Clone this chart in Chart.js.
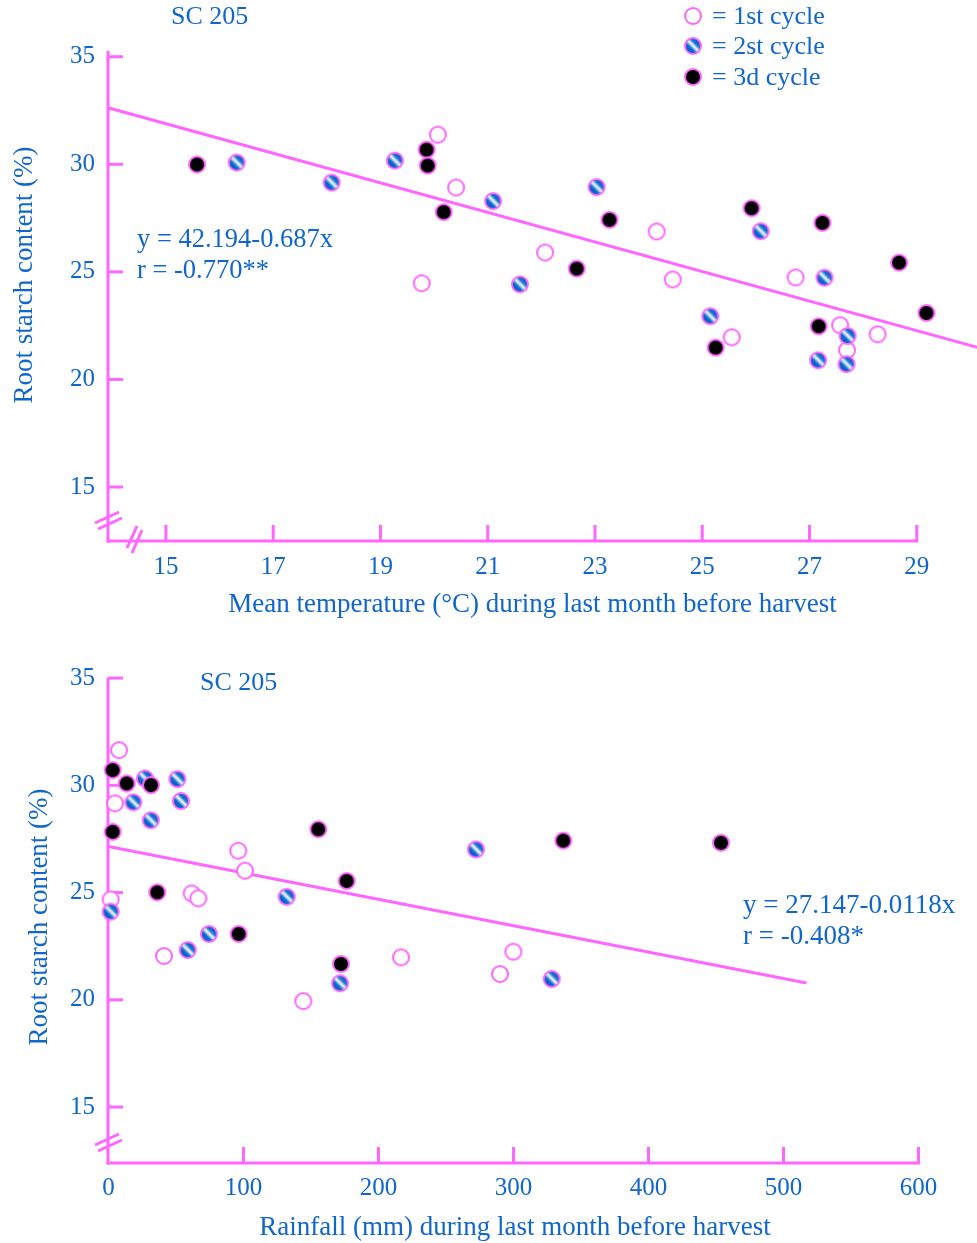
<!DOCTYPE html>
<html>
<head>
<meta charset="utf-8">
<script src="https://cdn.jsdelivr.net/npm/chart.js@4.4.1/dist/chart.umd.min.js"></script>
<style>
html,body{margin:0;padding:0;background:#fff;width:977px;height:1243px;overflow:hidden;}
#c1{position:absolute;left:0;top:0;}
#c2{position:absolute;left:0;top:625px;}
</style>
</head>
<body>
<canvas id="c1" width="977" height="625"></canvas>
<canvas id="c2" width="977" height="618"></canvas>
<script>
// ---------- DATA ----------
// Top panel: mean temperature (°C) vs root starch content (%)
const tempCycle1X = [20.07, 20.41, 19.77, 22.07, 24.15, 24.45, 25.55, 26.74, 27.57, 27.70, 28.27];
const tempCycle1Y = [31.38, 28.92, 24.47, 25.90, 26.88, 24.65, 21.96, 24.74, 22.52, 21.36, 22.10];
const tempCycle2X = [16.32, 18.09, 19.27, 21.10, 21.60, 23.03, 26.09, 25.15, 27.28, 27.71, 27.16, 27.69];
const tempCycle2Y = [30.08, 29.15, 30.17, 28.29, 24.42, 28.94, 26.89, 22.94, 24.73, 22.02, 20.89, 20.71];
const tempCycle3X = [15.58, 19.86, 19.88, 20.18, 22.66, 23.27, 25.92, 27.24, 28.67, 29.18, 27.17, 25.25];
const tempCycle3Y = [29.99, 30.68, 29.94, 27.78, 25.15, 27.42, 27.96, 27.28, 25.43, 23.09, 22.47, 21.48];
const tempTrendX = [13.92, 30.15];
const tempTrendY = [32.63, 21.48];
const tempXTicks = [15, 17, 19, 21, 23, 25, 27, 29];
const starchTicks = [15, 20, 25, 30, 35];

// Bottom panel: rainfall (mm) vs root starch content (%)
const rainCycle1X = [7.8, 4.8, 96.1, 101.1, 61.6, 66.5, 1.6, 41.1, 216.7, 144.3, 299.9, 290.0];
const rainCycle1Y = [31.64, 29.16, 26.95, 26.02, 24.96, 24.73, 24.68, 22.04, 21.98, 19.94, 22.24, 21.20];
const rainCycle2X = [27.0, 51.0, 18.4, 53.7, 31.3, 1.6, 132.0, 74.4, 58.7, 272.2, 171.5, 328.3];
const rainCycle2Y = [30.32, 30.29, 29.21, 29.27, 28.37, 24.11, 24.80, 23.07, 22.32, 27.01, 20.77, 20.97];
const rainCycle3X = [3.1, 13.5, 31.5, 3.1, 36.1, 96.4, 155.4, 336.9, 176.4, 172.2, 453.7];
const rainCycle3Y = [30.71, 30.09, 30.01, 27.83, 25.01, 23.07, 27.95, 27.42, 25.54, 21.67, 27.32];
const rainTrendX = [0, 517];
const rainTrendY = [27.15, 20.78];
const rainXTicks = [0, 100, 200, 300, 400, 500, 600];

// Texts
const cycleLabels = ['= 1st cycle', '= 2st cycle', '= 3d cycle'];
const varietyLabel = 'SC 205';
const yTitle = 'Root starch content (%)';
const tempXTitle = 'Mean temperature (°C) during last month before harvest';
const rainXTitle = 'Rainfall (mm) during last month before harvest';
const tempEquation = ['y = 42.194-0.687x', 'r = -0.770**'];
const rainEquation = ['y = 27.147-0.0118x', 'r = -0.408*'];

// ---------- STYLE ----------
const PINK = '#ff66ff';
const BLUE = '#1166cc';
const FONT = '"Liberation Serif", "Times New Roman", serif';
Chart.defaults.font.family = FONT;
Chart.defaults.color = BLUE;

function makeMarker(kind) {
  const c = document.createElement('canvas');
  c.width = 22; c.height = 22;
  const g = c.getContext('2d');
  g.beginPath();
  g.arc(11, 11, 8, 0, Math.PI * 2);
  if (kind === 1) {
    g.fillStyle = '#ffffff';
  } else if (kind === 3) {
    g.fillStyle = '#000000';
  } else {
    const gr = g.createLinearGradient(5, 17, 17, 5);
    gr.addColorStop(0, '#0657bd');
    gr.addColorStop(0.32, '#0a6ad4');
    gr.addColorStop(0.52, '#ffffff');
    gr.addColorStop(0.7, '#1a74d6');
    gr.addColorStop(1, '#0657bd');
    g.fillStyle = gr;
  }
  g.fill();
  g.lineWidth = 2;
  g.strokeStyle = PINK;
  g.stroke();
  return c;
}
const markers = [makeMarker(1), makeMarker(2), makeMarker(3)];

function pts(xs, ys) { return xs.map((x, i) => ({x: x, y: ys[i]})); }

function pointSet(label, xs, ys, marker, order) {
  return {
    label: label, data: pts(xs, ys), pointStyle: marker,
    pointRadius: 8, pointHoverRadius: 8, clip: false, order: order
  };
}
function trendSet(xs, ys) {
  return {
    type: 'line', label: 'fit', data: pts(xs, ys), borderColor: PINK, borderWidth: 3,
    pointRadius: 0, pointHoverRadius: 0, clip: false, order: 10, tension: 0, fill: false
  };
}

// axes drawn through the chart's scales: inward ticks, axis breaks
const axesPlugin = {
  id: 'axesPlugin',
  beforeDatasetsDraw(chart, args, o) {
    const {ctx, chartArea, scales} = chart;
    const xs = scales.x, ys = scales.y;
    const x0 = chartArea.left, y0 = chartArea.bottom;
    const yTop = ys.getPixelForValue(o.yTop);
    const xEnd = xs.getPixelForValue(o.xEnd);
    ctx.save();
    ctx.strokeStyle = PINK;
    ctx.lineWidth = 3;
    ctx.lineCap = 'butt';
    const seg = (a, b, c, d) => { ctx.beginPath(); ctx.moveTo(a, b); ctx.lineTo(c, d); ctx.stroke(); };
    seg(x0, yTop, x0, y0 + 1.5);
    seg(x0 - 1.5, y0, xEnd + 1.5, y0);
    ys.ticks.forEach(t => { const p = ys.getPixelForValue(t.value); seg(x0, p, x0 + 15, p); });
    xs.ticks.forEach(t => { const p = xs.getPixelForValue(t.value); if (p > x0 + 3) seg(p, y0, p, y0 - 16); });
    // y-axis break
    seg(x0 - 13, y0 - 18, x0 + 11, y0 - 29);
    seg(x0 - 10, y0 - 12, x0 + 14, y0 - 23);
    if (o.xBreak) {
      seg(x0 + 19, y0 + 7, x0 + 29, y0 - 15);
      seg(x0 + 24, y0 + 12, x0 + 34, y0 - 11);
    }
    ctx.restore();
  }
};

const notesPlugin = {
  id: 'notesPlugin',
  afterDraw(chart, args, o) {
    const ctx = chart.ctx;
    ctx.save();
    ctx.fillStyle = BLUE;
    ctx.textBaseline = 'middle';
    ctx.textAlign = 'left';
    (o.items || []).forEach(it => {
      ctx.font = it.size + 'px ' + FONT;
      ctx.fillText(it.text, it.x, it.y);
    });
    (o.legend || []).forEach(l => {
      ctx.drawImage(l.img, l.x - 11, l.y - 11);
      ctx.font = l.size + 'px ' + FONT;
      ctx.fillText(l.text, l.x + 19, l.y + 1);
    });
    ctx.restore();
  }
};

function makeChart(id, cfg) {
  return new Chart(document.getElementById(id), {
    type: 'scatter',
    data: {
      datasets: [
        pointSet('1st cycle', cfg.c1x, cfg.c1y, markers[0], 3),
        pointSet('2st cycle', cfg.c2x, cfg.c2y, markers[1], 2),
        pointSet('3d cycle', cfg.c3x, cfg.c3y, markers[2], 1),
        trendSet(cfg.tx, cfg.ty)
      ]
    },
    options: {
      responsive: false,
      animation: false,
      events: [],
      layout: {padding: cfg.padding},
      plugins: {
        legend: {display: false},
        tooltip: {enabled: false},
        axesPlugin: cfg.axes,
        notesPlugin: cfg.notes
      },
      scales: {
        x: {
          type: 'linear', min: cfg.xMin, max: cfg.xMax,
          afterBuildTicks: a => { a.ticks = cfg.xTicks.map(v => ({value: v})); },
          afterFit: s => { s.height = cfg.xHeight; s.paddingLeft = 0; s.paddingRight = 0; },
          grid: {display: false, drawTicks: false},
          border: {display: false},
          ticks: {color: BLUE, font: {size: 25}, padding: cfg.xTickPad, maxRotation: 0, autoSkip: false},
          title: {display: true, text: cfg.xTitle, color: BLUE, font: {size: 27}, padding: {top: 0, bottom: cfg.xTitlePad}}
        },
        y: {
          type: 'linear', min: cfg.yMin, max: cfg.yMax,
          afterBuildTicks: a => { a.ticks = starchTicks.map(v => ({value: v})); },
          afterFit: s => { s.width = 108; s.paddingTop = 0; s.paddingBottom = 0; },
          grid: {display: false, drawTicks: false},
          border: {display: false},
          ticks: {color: BLUE, font: {size: 25}, padding: 13, autoSkip: false},
          title: {display: true, text: yTitle, color: BLUE, font: {size: 27}, padding: {top: cfg.yTitlePad, bottom: 0}}
        }
      }
    },
    plugins: [axesPlugin, notesPlugin]
  });
}

makeChart('c1', {
  c1x: tempCycle1X, c1y: tempCycle1Y, c2x: tempCycle2X, c2y: tempCycle2Y, c3x: tempCycle3X, c3y: tempCycle3Y,
  tx: tempTrendX, ty: tempTrendY,
  padding: {left: 0, top: 1, right: 20, bottom: 0},
  xMin: 13.92, xMax: 29.75, yMin: 12.49, yMax: 37.22,
  xTicks: tempXTicks, xHeight: 84, xTickPad: 11, xTitle: tempXTitle, xTitlePad: 4, yTitlePad: 9,
  axes: {yTop: 35.28, xEnd: 29, xBreak: true},
  notes: {
    items: [
      {text: varietyLabel, x: 171, y: 17, size: 26},
      {text: tempEquation[0], x: 137, y: 240, size: 26.5},
      {text: tempEquation[1], x: 137, y: 271, size: 26.5}
    ],
    legend: [
      {img: markers[0], text: cycleLabels[0], x: 693, y: 16, size: 26},
      {img: markers[1], text: cycleLabels[1], x: 693, y: 46, size: 26},
      {img: markers[2], text: cycleLabels[2], x: 693, y: 77, size: 26}
    ]
  }
});

makeChart('c2', {
  c1x: rainCycle1X, c1y: rainCycle1Y, c2x: rainCycle2X, c2y: rainCycle2Y, c3x: rainCycle3X, c3y: rainCycle3Y,
  tx: rainTrendX, ty: rainTrendY,
  padding: {left: 0, top: 46, right: 55, bottom: 0},
  xMin: -0.37, xMax: 602.6, yMin: 12.39, yMax: 35.33,
  xTicks: rainXTicks, xHeight: 80, xTickPad: 10, xTitle: rainXTitle, xTitlePad: -1, yTitlePad: 24,
  axes: {yTop: 35, xEnd: 600, xBreak: false},
  notes: {
    items: [
      {text: varietyLabel, x: 200, y: 58, size: 26},
      {text: rainEquation[0], x: 743, y: 281, size: 27},
      {text: rainEquation[1], x: 743, y: 312, size: 27}
    ]
  }
});
</script>
</body>
</html>
